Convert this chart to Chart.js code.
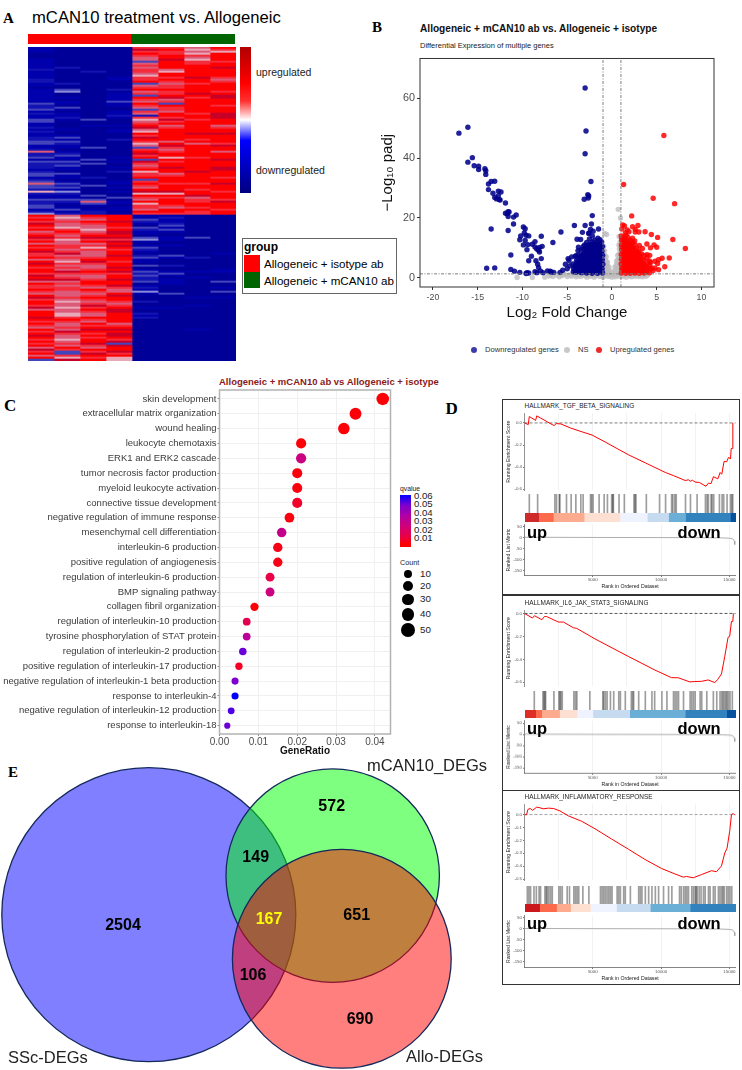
<!DOCTYPE html>
<html><head><meta charset="utf-8">
<script src="https://cdn.jsdelivr.net/npm/chart.js@4/dist/chart.umd.js"></script>
<style>
html,body{margin:0;padding:0;background:#fff}
#page{position:relative;width:742px;height:1070px;overflow:hidden;font-family:"Liberation Sans",Arial,sans-serif;color:#000}
#page canvas{position:absolute}
.t{position:absolute;white-space:nowrap;line-height:1;transform:translateY(-50%)}
.b{position:absolute}
.L{font-family:"Liberation Serif",serif;font-weight:bold;font-size:15px}
</style></head><body><div id="page"></div>
<script>
/* ---------- PANEL A : heat-map levels (0 navy ... 5 pale ... 8 red, 9 crimson), top 84 rows then bottom 73 rows ---------- */
const heatC1=[1,1,1,0,0,0,1,1,1,1,1,2,1,1,1,1,2,2,1,1,0,1,1,1,1,1,1,1,3,2,2,3,1,2,1,1,3,3,1,1,2,1,2,1,1,2,2,3,3,1,1,2,6,2,2,3,1,3,2,2,2,1,2,3,3,1,2,3,6,3,3,2,5,2,1,1,3,2,2,3,3,1,2,4,
 8,7,8,7,9,8,7,8,6,7,8,9,7,8,6,8,7,8,9,7,7,8,6,8,9,8,7,8,8,7,9,8,9,6,8,7,7,8,7,6,8,9,7,8,8,7,9,6,8,8,8,9,8,7,8,7,6,8,7,8,9,8,7,8,7,8,6,9,7,8,6,8,3];
const heatC2=[0,0,0,0,0,0,0,0,0,0,2,0,0,0,0,0,0,0,2,0,0,3,4,0,0,1,0,1,1,0,3,1,0,1,1,2,1,0,0,0,0,1,0,0,1,3,1,3,2,1,1,0,1,2,3,1,1,3,2,3,1,1,0,3,1,1,0,1,3,2,3,1,4,2,1,1,3,2,1,0,1,3,1,2,
 6,5,6,7,6,6,5,7,8,7,6,7,5,6,6,7,7,6,7,9,6,7,6,5,7,6,7,6,9,7,6,7,9,6,7,6,7,7,6,6,6,7,6,5,6,6,5,6,6,5,5,7,8,7,6,6,7,6,9,7,6,6,5,6,7,6,8,7,3,3,7,5,9];
const heatC3=[0,0,0,0,0,0,0,0,0,0,0,0,2,0,0,0,0,0,0,0,0,0,0,0,0,0,0,0,0,0,0,0,0,0,0,0,3,0,0,1,0,0,0,0,0,0,0,0,0,0,3,0,0,0,0,0,3,0,3,0,0,0,0,0,0,2,0,0,0,3,0,0,0,0,3,0,3,6,3,1,0,1,2,2,
 8,7,6,8,7,6,6,5,6,7,8,9,7,8,6,7,5,7,6,6,6,7,8,9,7,6,6,7,8,7,6,6,7,8,8,7,6,8,7,6,7,8,7,6,7,9,7,8,7,6,6,8,7,6,8,7,8,9,8,7,8,7,8,8,9,7,6,8,7,9,8,7,8];
const heatC4=[0,0,0,0,0,0,0,0,0,0,0,0,0,0,0,1,1,0,0,0,0,2,0,1,1,1,1,3,1,1,0,0,1,1,2,1,0,0,0,1,0,1,1,0,0,0,2,0,0,0,0,0,0,0,0,1,0,1,0,0,1,0,2,0,0,0,0,1,1,0,1,0,1,0,0,3,0,1,1,0,1,1,0,1,
 8,8,8,9,8,8,7,8,9,9,8,9,7,9,8,9,8,7,8,8,9,8,8,7,8,8,9,8,9,7,8,8,9,8,8,9,7,6,6,8,9,8,8,7,6,7,8,9,9,8,8,8,8,8,6,7,8,9,8,9,9,8,7,9,3,9,8,8,9,7,8,5,5];
const heatC5=[7,9,7,8,7,6,6,3,6,7,6,7,7,6,5,7,7,8,3,6,7,8,6,7,3,8,7,6,8,7,6,3,7,6,2,7,5,6,7,8,9,6,5,8,7,9,8,7,5,6,3,7,8,9,7,8,3,9,7,6,7,8,5,7,7,8,3,7,8,7,6,8,9,5,8,7,6,8,5,7,7,6,8,7,
 1,1,3,2,1,0,3,2,1,1,0,3,4,1,0,1,3,2,1,0,2,3,1,1,0,3,0,1,3,2,3,2,2,3,0,1,2,1,4,1,0,0,0,2,0,0,1,0,0,2,1,2,0,0,0,0,0,0,0,0,0,0,0,0,0,0,0,0,0,0,0,0,0];
const heatC6=[7,8,7,7,8,8,9,8,8,8,8,6,5,8,8,7,8,7,6,7,7,8,7,7,8,9,6,7,3,8,7,7,6,8,8,7,9,7,8,6,7,8,8,8,8,8,8,6,8,9,7,6,7,8,8,5,8,7,8,8,9,8,8,6,7,8,8,8,7,8,8,8,9,5,8,7,8,8,8,7,6,8,8,7,
 1,2,1,1,2,3,1,3,1,0,0,1,1,0,0,1,0,0,0,0,3,1,0,0,0,2,0,0,1,3,1,0,1,1,1,0,0,0,0,3,0,0,0,0,0,0,1,0,0,0,0,0,0,0,0,0,0,0,0,0,0,0,0,0,0,0,0,0,0,0,0,0,0];
const heatC7=[6,5,6,5,7,6,5,7,7,8,8,8,8,8,8,9,8,8,7,8,8,8,8,9,8,7,8,8,8,8,8,8,8,7,8,8,7,8,8,8,8,8,8,9,8,8,7,8,6,8,8,8,8,8,8,7,8,8,8,8,8,8,9,8,8,8,8,8,7,8,8,7,8,8,9,6,7,7,8,8,7,8,7,7,
 0,0,0,0,0,0,0,0,0,0,0,3,0,0,0,0,0,0,0,0,0,2,0,0,0,0,0,0,1,0,0,1,0,0,0,0,0,0,0,0,0,1,0,0,0,1,0,0,0,0,0,0,0,0,0,0,0,1,0,0,0,0,0,0,0,0,0,0,0,0,0,0,0];
const heatC8=[8,7,5,8,8,8,8,7,8,8,9,8,8,8,8,7,6,7,8,8,8,8,7,8,9,9,8,8,8,7,8,8,8,9,9,9,8,8,8,6,7,8,8,9,8,8,8,8,7,9,8,8,6,8,8,8,9,8,8,8,9,9,8,8,8,7,8,8,9,8,8,8,7,8,8,8,7,9,8,8,8,7,8,8,
 0,0,0,0,0,0,0,0,0,0,0,0,0,0,0,0,0,0,0,1,0,0,0,0,0,0,0,1,1,0,0,0,0,3,0,0,1,0,3,0,0,1,0,0,0,0,0,0,0,0,0,0,0,0,0,0,0,0,0,0,0,0,0,0,0,0,0,0,0,0,0,0,0];
const heatColumns=[heatC1,heatC2,heatC3,heatC4,heatC5,heatC6,heatC7,heatC8];
const heatPalette=['#000098','#0000ac','#1414b2','#4444bc','#8c8cd8','#e8a8b8','#dc5a78','#f42c3c','#ff0000','#c80028'];

/* ---------- PANEL B : volcano ---------- */
const downPoints=[[-17.1,48.4],[-16.1,50.4],[-16.1,38.7],[-15.6,40.2],[-15.4,37.5],[-14.9,37.3],[-14.9,36.2],[-14.2,36.5],[-14.1,35.8],[-14.1,34.6],
[-13.8,31.4],[-13.5,32.2],[-13.1,32.3],[-13.8,29.5],[-13.3,28.3],[-13.1,26.9],[-12.9,26.4],[-12.7,29],[-12.7,27.5],[-12.4,28.7],[-12.6,26.2],[-12.5,26],
[-11.9,25],[-11.9,21.6],[-11.6,22.1],[-11.7,21.4],[-11.5,22],[-11.6,20.5],[-11,20.3],[-10.7,21],[-11,18],[-11.6,15.8],[-13.5,16.3],
[-9.9,17],[-9.7,16.4],[-9.8,15],[-10.2,14],[-10.3,12.7],[-9.6,14.2],[-9.3,14],[-9.7,12.5],[-9.9,11],[-9.4,11.1],[-9.5,9.4],[-8.9,11.2],[-8.6,12.1],[-8.6,10.3],[-8.4,9.6],[-8.1,10.1],[-7.8,10.5],[-7.9,13.9],[-8.2,9.2],[-8.1,8.6],[-9,7.2],[-9.3,5.7],[-7.9,6.4],[-8.5,5.7],[-8.3,4.5],[-8.2,3.4],
[-11.3,7.6],[-14,3.2],[-13.1,3.3],[-11.3,2.8],[-10.9,2.2],[-10.3,1.8],[-9.5,1.7],[-9.6,1.4],[-9.3,1.6],[-8.6,2],[-8.4,1.7],[-8,2.3],[-7.7,1.7],[-7.2,2.3],[-6.9,2.2],[-6.8,1.9],[-6.6,11.8],[-5.7,15.3],
[-3,63.5],[-2.9,49.1],[-3,41.5],[-2.35,32.2],[-2.7,27.8],[-2.6,27.4],[-3.1,26.3],[-2.65,26.7],[-2.2,20.8],[-4.2,17.5],[-3,17.5],[-2.3,18],[-1.5,16.3],[-2.4,16.2],[-3.3,15.2],[-2.6,14.8],[-2.1,15.6],
[-4.9,6.4],[-4.5,7],[-5.2,4.5],[-5,3],[-4.7,4],[-5.5,2.5],[-5.8,1.8],[-6.5,1.8],[-4.8,5.8],[-3.9,12.9],[-3.5,12.8],[-3.2,10.5],[-3.8,9],[-4.1,7.2],
[-1.05,1.6],[-1.1,3],[-1.02,4.5],[-1.08,6],[-1.04,7.5],[-1.12,9],[-1.06,10.5],[-1.15,12],
[-1.32,2.2],[-1.28,3.6],[-1.35,5.1],[-1.3,6.7],[-1.26,8.2],[-1.36,9.8],[-1.3,11.3],[-1.34,12.7],
[-1.62,1.5],[-1.58,2.9],[-1.6,4.4],[-1.66,5.9],[-1.57,7.4],[-1.63,8.9],[-1.6,10.4],[-1.65,12],[-1.58,13.2],
[-1.92,2.1],[-1.88,3.7],[-1.95,5.2],[-1.86,6.6],[-1.9,8.1],[-1.94,9.7],[-1.87,11.1],[-1.93,12.6],
[-2.22,1.5],[-2.18,3],[-2.24,4.5],[-2.16,6],[-2.2,7.5],[-2.25,9],[-2.17,10.5],[-2.22,12],[-2.19,14],
[-2.52,2.2],[-2.48,3.7],[-2.55,5.2],[-2.46,6.7],[-2.5,8.2],[-2.54,9.6],[-2.47,11.2],[-2.52,13],[-2.56,15],
[-2.82,1.6],[-2.78,3],[-2.85,4.4],[-2.76,5.9],[-2.8,7.3],[-2.84,8.8],[-2.77,10.3],[-2.83,11.8],
[-3.12,2.1],[-3.08,3.6],[-3.15,5],[-3.06,6.5],[-3.1,8],[-3.14,9.5],[-3.07,11],
[-3.42,1.7],[-3.38,3],[-3.45,4.5],[-3.36,6],[-3.4,7.5],[-3.44,9.3],
[-3.72,2.1],[-3.68,3.4],[-3.75,4.8],[-3.66,6.2],[-3.7,7.6],[-3.74,10.2],
[-4.02,1.8],[-3.98,3.1],[-4.05,4.4],[-3.96,5.8],[-4,7.4],[-4.32,2],[-4.28,3.2],[-4.35,4.6],
[-1.15,2.3],[-1.2,3.8],[-1.17,5.3],[-1.22,6.9],[-1.16,8.4],[-1.2,10],[-1.45,1.9],[-1.42,3.2],[-1.47,4.8],[-1.44,6.3],[-1.49,7.8],[-1.43,9.3],[-1.46,11],[-1.75,2.4],[-1.72,3.6],[-1.78,5.1],[-1.74,6.6],[-1.77,8.2],[-1.73,9.6],[-1.76,11.2],
[-2.05,2.3],[-2.02,3.7],[-2.08,5.2],[-2.04,6.8],[-2.07,8.4],[-2.03,9.8],[-2.06,11.3],[-2.35,2],[-2.32,3.4],[-2.38,4.9],[-2.34,6.4],[-2.37,7.9],[-2.33,9.4],[-2.36,11],[-2.65,1.9],[-2.62,3.3],[-2.68,4.8],[-2.64,6.3],[-2.67,7.8],[-2.63,9.2],[-2.66,10.8],
[-2.95,2.3],[-2.92,3.8],[-2.98,5.3],[-2.94,6.8],[-2.97,8.3],[-2.93,9.9],[-3.25,1.9],[-3.22,3.3],[-3.28,4.8],[-3.24,6.3],[-3.27,7.8],[-3.55,2.4],[-3.52,3.7],[-3.58,5.2],[-3.54,6.8],[-3.85,2.6],[-3.83,3.9],[-3.87,5.2],[-4.15,2.5],[-4.13,3.8]];
const nsPoints=[[-10.6,0.1],[-8.9,0.1],[-7.5,0.2],[-7,0.6],[-6.6,0.4],[-6.2,0.9],[-5.9,0.3],[-5.6,0.7],[-5.3,1.1],[-5,0.4],[-4.8,0.9],[-4.5,0.5],[-4.2,1.1],[-4,0.3],[-3.8,0.8],[-3.5,0.4],[-3.3,1.1],[-3,0.7],[-2.8,0.2],[-2.6,1],[-2.4,0.5],[-2.2,0.9],[-2,0.2],[-1.8,0.7],[-1.6,1.1],[-1.4,0.4],[-1.2,0.9],[-1,0.2],[-0.8,0.7],[-0.6,1.1],[-0.4,0.4],[-0.2,0.8],[0,0.2],[0.2,0.8],[0.4,0.3],[0.6,1],[0.8,0.5],[1,1.1],[1.2,0.4],[1.4,0.8],[1.6,0.2],[1.8,1],[2,0.6],[2.2,0.3],[2.4,0.9],[2.6,0.5],[2.8,1.1],[3,0.4],[3.2,0.8],[3.4,0.3],[3.6,1],[3.8,0.5],[4,0.9],[-6.8,1.1],[-5.5,1.2],[-4.4,1.2],[-3.6,1.2],[-2.9,1.2],[-2.1,1.2],[1.5,1.2],[2.5,1.2],[3.3,1.2],
[-0.95,1.5],[-0.97,3],[-0.93,4.5],[-0.96,6],[-0.94,7.5],[-0.97,9],[-0.92,10.5],[-0.8,1.6],[-0.82,3],[-0.78,4.5],[-0.81,6],[-0.79,7.5],[-0.83,9],[-0.65,1.5],[-0.67,2.8],[-0.63,4.2],[-0.66,5.5],[-0.64,7],[-0.5,1.5],[-0.52,2.8],[-0.48,4],[-0.51,5.2],[-0.35,1.4],[-0.37,2.5],[-0.33,3.5],[-0.2,1.3],[-0.22,2],
[0.2,1.3],[0.22,2],[0.35,1.4],[0.37,2.6],[0.33,3.6],[0.5,1.5],[0.52,3],[0.48,4.2],[0.51,5.5],[0.65,1.6],[0.67,3],[0.63,4.6],[0.66,6],[0.64,7.5],[0.8,1.5],[0.82,3.2],[0.78,4.8],[0.81,6.4],[0.79,8],[0.83,9.6],[0.78,11],[0.8,13.8],[0.95,1.6],[0.97,3.2],[0.93,5],[0.96,6.6],[0.94,8.2],[0.97,10],[0.92,12],
[0.7,22.9],[0.95,20],[-0.8,14.8],[-0.6,14.5]];
const upPoints=[[5.8,47.6],[1.3,31.2],[4.6,26.6],[7,24.8],[2.2,20.7],[1.2,17.7],[1.4,17.3],[2.3,17.1],[2.9,17.5],[1.1,16.3],[1.7,16],[2.6,16.2],[1.5,15],[1.9,15.4],[2.6,15.3],[3,15.3],[3.7,15.4],[4.4,14.5],[5.1,13.5],[6.8,12.8],[8.2,9.8],[5,10.2],[4.3,10],[3.4,9.8],[3.9,11.3],[4.7,11],[5.6,6.5],[6.4,6.6],[5.2,6],[4.8,5.5],[5.1,4.8],[4.3,5.2],[5.9,3.7],[4.8,3.3],[4.4,3.2],[5.2,2.7],[4.6,2.4],
[1.05,1.6],[1.08,3],[1.03,4.6],[1.06,6.2],[1.04,7.8],[1.09,9.4],[1.05,11],[1.07,12.6],[1.03,14],
[1.3,2.3],[1.27,3.9],[1.33,5.4],[1.28,7],[1.32,8.6],[1.26,10.2],[1.31,11.8],[1.29,13.4],
[1.55,1.5],[1.52,3.1],[1.58,4.7],[1.53,6.3],[1.57,7.9],[1.51,9.5],[1.56,11.1],[1.54,12.7],[1.58,14.2],
[1.8,2.2],[1.77,3.8],[1.83,5.4],[1.78,7.1],[1.82,8.7],[1.76,10.3],[1.81,12],[1.79,13.5],
[2.05,1.5],[2.02,3],[2.08,4.6],[2.03,6.2],[2.07,7.8],[2.01,9.3],[2.06,10.9],[2.04,12.5],
[2.3,2.1],[2.27,3.7],[2.33,5.3],[2.28,6.8],[2.32,8.5],[2.26,10.1],[2.31,11.8],[2.29,13.2],
[2.55,1.6],[2.52,3.2],[2.58,4.7],[2.53,6.3],[2.57,7.8],[2.51,9.4],[2.56,11],[2.54,12.3],
[2.8,2.2],[2.77,3.7],[2.83,5.3],[2.78,6.9],[2.82,8.4],[2.76,9.9],
[3.05,1.5],[3.02,3],[3.08,4.5],[3.03,6.1],[3.07,7.7],[3.01,9],[3.06,10.8],
[3.3,2.1],[3.27,3.5],[3.33,5],[3.28,6.4],[3.32,8],
[3.6,1.6],[3.57,3],[3.63,4.4],[3.58,5.9],[3.62,7.5],
[3.9,2],[3.87,3.3],[3.93,4.7],[3.88,6.5],[3.92,7.7],
[4.2,1.7],[4.17,3],[4.23,4.2],[4.18,5.6],[4.22,7.5],
[1.18,2.4],[1.15,3.8],[1.2,5.2],[1.16,7],[1.19,8.6],[1.14,10.2],[1.18,11.8],[1.15,13.2],[1.42,2],[1.4,3.4],[1.44,4.9],[1.41,6.5],[1.43,8.1],[1.39,9.7],[1.42,11.3],[1.4,13],
[1.68,2.2],[1.65,3.7],[1.7,5.2],[1.66,6.9],[1.69,8.4],[1.64,10],[1.68,11.7],[1.92,2.2],[1.9,3.6],[1.94,5.1],[1.91,6.7],[1.93,8.3],[1.89,9.9],[1.92,11.5],
[2.18,2],[2.15,3.4],[2.2,4.9],[2.16,6.5],[2.19,8.1],[2.14,9.6],[2.18,11.3],[2.42,2.3],[2.4,3.8],[2.44,5.3],[2.41,6.9],[2.43,8.4],[2.39,10],
[2.68,1.9],[2.65,3.4],[2.7,4.9],[2.66,6.5],[2.69,8.1],[2.92,2.2],[2.9,3.7],[2.94,5.2],[2.91,6.8],[2.93,8.4],[3.18,2.2],[3.15,3.7],[3.2,5.2],[3.16,6.8],[3.45,2],[3.42,3.4],[3.47,5],[3.75,2.3],[3.73,3.8]];
const volcanoXTicks=[-20,-15,-10,-5,0,5,10];
const volcanoYTicks=[0,20,40,60];
const foldThreshold=1, padjThreshold=1.3;

/* ---------- PANEL C : dot plot ---------- */
const terms=['skin development','extracellular matrix organization','wound healing','leukocyte chemotaxis','ERK1 and ERK2 cascade','tumor necrosis factor production','myeloid leukocyte activation','connective tissue development','negative regulation of immune response','mesenchymal cell differentiation','interleukin-6 production','positive regulation of angiogenesis','regulation of interleukin-6 production','BMP signaling pathway','collagen fibril organization','regulation of interleukin-10 production','tyrosine phosphorylation of STAT protein','regulation of interleukin-2 production','positive regulation of interleukin-17 production','negative regulation of interleukin-1 beta production','response to interleukin-4','negative regulation of interleukin-12 production','response to interleukin-18'];
const geneRatio=[.042,.035,.032,.021,.021,.020,.020,.020,.018,.016,.015,.015,.013,.013,.009,.007,.007,.006,.005,.004,.004,.003,.002];
const qvalue=[.001,.001,.001,.001,.022,.002,.002,.006,.002,.024,.003,.003,.01,.022,.001,.012,.027,.045,.005,.04,.06,.05,.044];
const geneCount=[50,42,38,25,25,24,24,24,21,19,18,18,15,15,11,8,8,7,6,5,5,4,2];
const ratioTicks=[0,.01,.02,.03,.04];
const qLegend=['0.06','0.05','0.04','0.03','0.02','0.01'];
const countLegend=[10,20,30,40,50];

/* ---------- PANEL D : GSEA ---------- */
const gseaTitles=['HALLMARK_TGF_BETA_SIGNALING','HALLMARK_IL6_JAK_STAT3_SIGNALING','HALLMARK_INFLAMMATORY_RESPONSE'];
const es1=[[0,0],[275,-.015],[350,.058],[810,.023],[900,.064],[2025,-.015],[2170,-.023],[2320,-.006],[2660,-.009],[3370,-.046],[4220,-.081],[4950,-.11],[5920,-.174],[7630,-.29],[8850,-.362],[10310,-.449],[10920,-.478],[11770,-.522],[12000,-.515],[12130,-.528],[12300,-.52],[12500,-.536],[12800,-.54],[13280,-.574],[13470,-.545],[13650,-.55],[13830,-.487],[14150,-.507],[14320,-.449],[14440,-.465],[14610,-.348],[14800,-.352],[14930,-.313],[15080,-.325],[15130,-.232],[15220,-.232],[15250,0]];
const es2=[[0,0],[580,-.04],[730,-.02],[1270,-.055],[1460,-.027],[1620,-.027],[2480,-.075],[2850,-.075],[3580,-.125],[3820,-.13],[5160,-.222],[7600,-.375],[9550,-.494],[10760,-.56],[11250,-.561],[12100,-.597],[12470,-.594],[12960,-.592],[13440,-.58],[13930,-.603],[14130,-.578],[14420,-.528],[14660,-.375],[14900,-.208],[15020,-.2],[15150,-.07],[15250,-.07],[15290,0]];
const es3=[[0,0],[150,-.002],[250,.04],[420,.047],[590,.033],[900,.058],[1140,.052],[1380,.045],[1750,.05],[2120,.047],[2600,.028],[3210,-.01],[4190,-.052],[5160,-.11],[6380,-.19],[7600,-.268],[8820,-.348],[10030,-.418],[11010,-.46],[11620,-.485],[11860,-.48],[12350,-.49],[12960,-.465],[13690,-.435],[14050,-.443],[14420,-.398],[14660,-.298],[14830,-.26],[15030,-.122],[15150,0],[15280,.008],[15400,-.005]];
const rug1=[316,925,2190,2310,2510,2555,3040,3380,3725,4090,4260,4800,4890,4990,5430,5800,6040,6350,6430,6475,6890,7280,7985,8060,8130,8890,9860,10300,10740,10835,10980,11080,11760,12125,12610,13220,13345,13440,13635,13710,13830,14245,14440,14560,14805,15050,15150,15220];
const rug2=[680,1315,1390,1460,1510,2120,2480,2555,2630,2730,3580,3700,3800,4750,5700,5770,5890,6015,6260,6500,6870,6990,7350,7790,7890,7960,8330,8815,9300,9500,10030,10400,10880,11000,11130,11250,11615,12100,12220,12345,12470,12830,12950,13320,13800,14050,14290,14415,14510,14610,14710,14800,14900,15020,15190];
const rug3=[170,290,410,660,830,1030,1140,1460,1560,1630,1750,1880,2000,2480,2600,2730,3090,3260,3580,3700,3820,3940,4240,4680,5530,5650,5770,5890,6015,6140,6260,6380,6750,6870,6990,7230,7350,7720,8330,8450,8570,8815,9060,9300,9550,9790,10150,10520,10760,11320,11445,11615,11740,11860,11980,12220,12345,12470,12540,12615,12760,12900,13075,13200,13440,13560,13800,13930,14170,14290,14415,14510,14610,14780,14900,15020,15150];
const stripEdges1=[0,1000,2070,4330,6960,8960,10520,11760,15050,15460];
const stripEdges2=[0,780,1220,2530,3820,4970,7670,11740,14780,15460];
const stripEdges3=[0,1070,2310,3340,4800,6700,9180,12100,15460];
const stripColors1=['#cf2a2a','#fb6a4a','#fcab8f','#fee0d2','#eff3ff','#c6dbef','#6baed6','#3182bd','#08519c'];
const stripColors2=['#de2d26','#fb6a4a','#fcab8f','#fee0d2','#eff3ff','#c6dbef','#6baed6','#3182bd','#08519c'];
const stripColors3=['#cb181d','#fb6a4a','#fcab8f','#fee0d2','#eff3ff','#c6dbef','#6baed6','#3182bd'];
const rankedMetric=[[0,1.5],[5000,.5],[10000,0],[13000,-.5],[14500,-1.5],[15000,-3],[15200,-5],[15300,-9],[15360,-16],[15400,-32]];
const esTicks1=[0,-.2,-.4,-.6], esTicks2=[0,-.2,-.4,-.6], esTicks3=[0,-.1,-.2,-.3,-.4,-.5];
const metricTicks=[50,0,-50,-100,-150];
const rankTicks=[5000,10000,15000];
const rankGrid=[2500,5000,7500,10000,12500,15000];

/* ---------- PANEL E : Venn ---------- */
const vennSets=['SSc-DEGs','mCAN10_DEGs','Allo-DEGs'];
const vennCx=[29.76,66.54,68.36], vennCy=[50.7,38.3,64.7], vennRadius=[29.4,21.34,21.88];
const vennFill=['rgba(0,0,255,.5)','rgba(0,255,0,.5)','rgba(255,0,0,.5)'];
const vennCounts=['2504','149','572','167','651','106','690'];

/* ---------- helpers ---------- */
const page=document.getElementById('page');
Chart.defaults.animation=false;
Chart.defaults.font.family='"Liberation Sans",Arial,sans-serif';
Chart.defaults.plugins.legend.display=false;
Chart.defaults.plugins.tooltip.enabled=false;
function T(s,x,y,st={}){const e=document.createElement('div');e.className='t '+(st.cls||'');e.textContent=s;
 e.style.left=x+'px';e.style.top=y+'px';Object.assign(e.style,st.css||{});
 if(st.center)e.style.transform='translate(-50%,-50%)';page.appendChild(e);return e;}
function B(l,t,w,h,css){const e=document.createElement('div');e.className='b';e.style.left=l+'px';e.style.top=t+'px';e.style.width=w+'px';e.style.height=h+'px';Object.assign(e.style,css||{});page.appendChild(e);return e;}
const frame={id:'frame',afterDatasetsDraw(c,a,o){if(!o.color)return;const A=c.chartArea,x=c.ctx;x.save();x.strokeStyle=o.color;x.lineWidth=o.width||1;x.strokeRect(A.left,A.top,A.width,A.height);x.restore();}};
function mk(rect,plot,cfg){const [l,t,r,b]=rect,[pl,pt,pr,pb]=plot;
 const cv=document.createElement('canvas');cv.width=r-l;cv.height=b-t;cv.style.left=l+'px';cv.style.top=t+'px';cv.style.width=(r-l)+'px';cv.style.height=(b-t)+'px';page.appendChild(cv);
 const o=cfg.options=cfg.options||{};o.responsive=false;o.maintainAspectRatio=false;
 o.layout={autoPadding:false,padding:{left:0,top:pt-t,right:r-pr,bottom:0}};
 const sc=o.scales=o.scales||{};sc.x=sc.x||{};sc.y=sc.y||{};
 sc.x.afterFit=s=>{s.height=b-pb};sc.y.afterFit=s=>{s.width=pl-l};
 cfg.plugins=(cfg.plugins||[]).concat([frame]);
 return new Chart(cv,cfg);}
const fix=v=>s=>{s.ticks=v.map(value=>({value}))};
const mapPts=p=>p.map(([x,y])=>({x,y}));

/* ---------- PANEL A ---------- */
T('A',3,18,{cls:'L'});
T('mCAN10 treatment vs. Allogeneic',32,18,{css:{fontSize:'16.65px'}});
B(28,34,103,9.5,{background:'#ff0000'});B(131,34,104,9.5,{background:'#006400'});
const heatRows=heatC1.map((_,i)=>String(i+1));
mk([28,47,236,361],[28,47,236,361],{type:'bar',
 data:{labels:heatRows,datasets:heatColumns.map((col,j)=>({data:col.map(()=>[j,j+1]),backgroundColor:col.map(v=>heatPalette[v]),borderWidth:0,barPercentage:1,categoryPercentage:1,grouped:false}))},
 options:{indexAxis:'y',scales:{x:{type:'linear',min:0,max:8,display:false},y:{display:false}}}});
B(240,47,11,146,{background:'linear-gradient(to bottom,#b00000 0%,#ff0000 25%,#ff3030 37%,#ffffff 50%,#0000ff 64%,#000080 100%)'});
T('upregulated',256,71.5,{css:{fontSize:'10.5px',color:'#222'}});
T('downregulated',256,169.5,{css:{fontSize:'10.5px',color:'#222'}});
B(242,238,153,54,{border:'1.5px solid #666',background:'#fff',boxSizing:'content-box'});
T('group',244,247,{css:{fontSize:'12px',fontWeight:'bold'}});
B(244,255,16,17,{background:'#ff0000'});B(244,272,16,16,{background:'#006400'});
T('Allogeneic + isotype ab',264,264,{css:{fontSize:'11.6px'}});
T('Allogeneic + mCAN10 ab',264,281,{css:{fontSize:'11.6px'}});

/* ---------- PANEL B ---------- */
T('B',372,27,{cls:'L'});
T('Allogeneic + mCAN10 ab vs. Allogeneic + isotype',420,29,{css:{fontSize:'10.15px',fontWeight:'bold',color:'#111'}});
T('Differential Expression of multiple genes',420,45.5,{css:{fontSize:'7.5px',color:'#222'}});
const pointDs=(pts,c,o)=>({data:mapPts(pts),backgroundColor:c,borderWidth:0,pointRadius:2.7,order:o});
const ref=(pts,o)=>({data:mapPts(pts),showLine:true,borderColor:'#7f7f7f',borderWidth:1,borderDash:[3,1.5,1,1.5],pointRadius:0,order:o,fill:false});
const vx=[-21.45,11.4], vy=[-3.1,73.4];
mk([379,50,726,322],[420,57,714,287],{type:'scatter',
 data:{datasets:[
  pointDs(nsPoints,'rgba(190,190,190,.78)',3),
  pointDs(downPoints,'rgba(0,0,139,.87)',2),
  pointDs(upPoints,'rgba(255,0,0,.84)',1),
  ref([[-foldThreshold,vy[0]],[-foldThreshold,vy[1]]],0),
  ref([[foldThreshold,vy[0]],[foldThreshold,vy[1]]],0),
  ref([[vx[0],padjThreshold],[vx[1],padjThreshold]],0)]},
 options:{plugins:{frame:{color:'#333',width:1}},
  scales:{x:{type:'linear',min:vx[0],max:vx[1],afterBuildTicks:fix(volcanoXTicks),grid:{drawOnChartArea:false,tickLength:3,color:'#333'},border:{display:false},
    ticks:{font:{size:8.8},color:'#4d4d4d',padding:2,autoSkip:false,maxRotation:0,callback:v=>String(v)},
    title:{display:true,text:'Log\u2082 Fold Change',color:'#111',font:{size:15},padding:0}},
   y:{type:'linear',min:vy[0],max:vy[1],afterBuildTicks:fix(volcanoYTicks),grid:{drawOnChartArea:false,tickLength:3,color:'#333'},border:{display:false},
    ticks:{font:{size:10.8},color:'#4d4d4d',padding:2,autoSkip:false,callback:v=>String(v)},
    title:{display:true,text:'\u2212Log\u2081\u2080 padj',color:'#111',font:{size:15},padding:0}}}}});
[[474,'rgba(40,40,160,.9)','Downregulated genes',485],[567,'#c8c8c8','NS',578],[598.7,'#ee2a2a','Upregulated genes',610]].forEach(([cx,c,s,tx])=>{
 B(cx-3,347,6,6,{background:c,borderRadius:'50%'});T(s,tx,350,{css:{fontSize:'7.6px',color:'#333'}});});

/* ---------- PANEL C ---------- */
T('C',4,405,{cls:'L',css:{fontSize:'17px'}});
T('D',445.5,408,{cls:'L',css:{fontSize:'17px'}});
T('Allogeneic + mCAN10 ab vs Allogeneic + isotype',219,381.5,{css:{fontSize:'9.5px',fontWeight:'bold',color:'#8b1a1a'}});
const qStops=[[255,0,0],[233,0,70],[208,0,120],[176,0,165],[125,0,205],[80,0,232],[0,0,255]];
const qColor=q=>{const t=Math.min(.9999,q/.06)*6,i=Math.floor(t),f=t-i,a=qStops[i],b=qStops[i+1];return `rgb(${a.map((v,k)=>Math.round(v+(b[k]-v)*f)).join(',')})`};
const countRadius=c=>2.3+.56*Math.sqrt(c);
mk([0,380,395,757],[219.5,390,390.5,734],{type:'bubble',
 data:{datasets:[{data:terms.map((_,i)=>({x:geneRatio[i],y:i,r:countRadius(geneCount[i])})),backgroundColor:qvalue.map(qColor),borderWidth:0,clip:false}]},
 options:{plugins:{frame:{color:'#b3b3b3',width:1.5}},
  scales:{x:{type:'linear',min:0,max:.044,afterBuildTicks:fix(ratioTicks),grid:{color:'#f0f0f0',tickLength:2,tickColor:'#888'},border:{display:false},
    ticks:{font:{size:10},color:'#4d4d4d',padding:0,autoSkip:false,maxRotation:0,callback:v=>v.toFixed(2)},
    title:{display:true,text:'GeneRatio',color:'#111',font:{size:10,weight:'bold'},padding:0}},
   y:{type:'linear',reverse:true,min:-.6,max:22.56,afterBuildTicks:fix(terms.map((_,i)=>i)),grid:{color:'#f0f0f0',tickLength:2,tickColor:'#888'},border:{display:false},
    ticks:{font:{size:9.5},color:'#3a3a3a',padding:1,autoSkip:false,callback:v=>terms[v]}}}}});
T('qvalue',400,489,{css:{fontSize:'6.8px',color:'#222'}});
B(400,495,10.5,52,{background:'linear-gradient(to bottom,rgb(0,0,255),rgb(125,0,205) 20%,rgb(176,0,165) 40%,rgb(208,0,120) 60%,rgb(233,0,70) 80%,rgb(255,0,0) 95%)'});
qLegend.forEach((s,i)=>T(s,414,495.7+i*8.5,{css:{fontSize:'9.6px',color:'#222'}}));
T('Count',400,563,{css:{fontSize:'7.2px',color:'#222'}});
[574.3,586,599.3,614.3,630.3].forEach((y,i)=>{const r=[4,5,5.6,6.3,6.9][i];B(408-r,y-r,2*r,2*r,{background:'#000',borderRadius:'50%'});T(String(countLegend[i]),420,y,{css:{fontSize:'9.8px',color:'#222'}});});

/* ---------- PANEL D ---------- */
const L=524.5,R=735.7,RM=15460;
const gsea=[
 {fr:[502,399,238,196],title:406,top:[413,493.3],yr:[-.611,.09],yt:esTicks1,es:es1,rug:rug1,rugY:[494,512.7],strip:[513.2,521.7],se:stripEdges1,sc:stripColors1,rk:[522.7,575.7],rkY:[-173,59],upY:531.5,ds:'#6f6f6f'},
 {fr:[502,595,238,196],title:602.5,top:[609.7,689.3],yr:[-.636,.03],yt:esTicks2,es:es2,rug:rug2,rugY:[691,710],strip:[710,718.3],se:stripEdges2,sc:stripColors2,rk:[719,773.3],rkY:[-175,62],upY:728.3,ds:'#444'},
 {fr:[502,790,238,195],title:797.3,top:[804.3,883.3],yr:[-.51,.082],yt:esTicks3,es:es3,rug:rug3,rugY:[886,904.3],strip:[904.3,912.3],se:stripEdges3,sc:stripColors3,rk:[913.7,968],rkY:[-177,60],upY:922.7,ds:'#9a9a9a'}];
gsea.forEach((g,k)=>{
 B(g.fr[0],g.fr[1],g.fr[2],g.fr[3],{border:'1.5px solid #333',boxSizing:'border-box'});
 T(gseaTitles[k],524.5,g.title,{css:{fontSize:'6.45px',color:'#222'}});
 const xBase={type:'linear',min:0,max:RM,offset:false};
 mk([505,g.top[0]-4,Math.ceil(R)+1,g.top[1]+1],[L,g.top[0],R,g.top[1]],{type:'scatter',
  data:{datasets:[
   {data:mapPts([[0,0],[RM,0]]),showLine:true,borderColor:g.ds,borderWidth:.9,borderDash:[3,2],pointRadius:0,order:1},
   {data:mapPts(g.es),showLine:true,borderColor:'#ff0000',borderWidth:1,pointRadius:0,tension:0,order:0}]},
  options:{scales:{x:{...xBase,afterBuildTicks:fix(rankGrid),grid:{color:'#f2f2f2',drawTicks:false},border:{display:false},ticks:{display:false}},
   y:{type:'linear',min:g.yr[0],max:g.yr[1],afterBuildTicks:fix(g.yt),grid:{drawOnChartArea:false,tickLength:1.5,color:'#777'},border:{color:'#777',width:.8},
    ticks:{font:{size:4.4},color:'#555',padding:1,autoSkip:false,callback:v=>v.toFixed(1)},
    title:{display:true,text:'Running Enrichment Score',color:'#222',font:{size:5.2},padding:0}}}}});
 mk([L,g.rugY[0],Math.ceil(R),g.rugY[1]],[L,g.rugY[0],Math.ceil(R),g.rugY[1]],{type:'bar',
  data:{datasets:[{data:g.rug.map(x=>({x,y:1})),backgroundColor:'rgba(25,25,25,.42)',barThickness:1,grouped:false,borderWidth:0}]},
  options:{scales:{x:{...xBase,display:false},y:{type:'linear',min:0,max:1,display:false}}}});
 mk([L,g.strip[0],Math.ceil(R),g.strip[1]],[L,g.strip[0],Math.ceil(R),g.strip[1]],{type:'bar',
  data:{labels:['rank'],datasets:g.sc.map((c,i)=>({data:[[g.se[i],g.se[i+1]]],backgroundColor:c,borderWidth:0,barPercentage:1,categoryPercentage:1,grouped:false}))},
  options:{indexAxis:'y',scales:{x:{...xBase,display:false},y:{display:false}}}});
 mk([505,g.rk[0]-2,Math.ceil(R)+6,g.rk[1]+14.5],[L,g.rk[0],R,g.rk[1]],{type:'scatter',
  data:{datasets:[{data:mapPts(rankedMetric),showLine:true,borderColor:'#999',borderWidth:.8,pointRadius:0}]},
  options:{scales:{x:{...xBase,afterBuildTicks:fix(rankTicks),grid:{color:'#f2f2f2',tickLength:1.5,tickColor:'#777'},border:{color:'#666',width:.8},
    ticks:{font:{size:4.4},color:'#555',padding:.5,autoSkip:false,maxRotation:0,callback:v=>String(v)},
    title:{display:true,text:'Rank in Ordered Dataset',color:'#222',font:{size:5.2},padding:0}},
   y:{type:'linear',min:g.rkY[0],max:g.rkY[1],afterBuildTicks:fix(metricTicks),grid:{drawOnChartArea:false,tickLength:1.5,color:'#777'},border:{color:'#666',width:.8},
    ticks:{font:{size:4.4},color:'#555',padding:1,autoSkip:false,callback:v=>String(v)},
    title:{display:true,text:'Ranked List Metric',color:'#222',font:{size:5.2},padding:0}}}}});
 T('up',527,g.upY,{css:{fontSize:'16.5px',fontWeight:'bold'}});
 T('down',677.5,g.upY,{css:{fontSize:'16.5px',fontWeight:'bold'}});
});

/* ---------- PANEL E ---------- */
T('E',8,771.7,{cls:'L'});
mk([0,755,500,1070],[0,755,500,1070],{type:'bubble',
 data:{datasets:vennSets.map((s,i)=>({label:s,data:[{x:vennCx[i],y:vennCy[i],r:vennRadius[i]*5}],backgroundColor:vennFill[i],borderColor:'#14285a',borderWidth:1.3,clip:false,order:2-i}))},
 options:{scales:{x:{type:'linear',min:0,max:100,display:false},y:{type:'linear',min:0,max:100,display:false,reverse:true}}}});
[[123,925],[255.7,857.3],[331.7,805.7],[269,918.7],[356.7,914.7],[253,975.3],[360,1018.7]].forEach(([x,y],i)=>
 T(vennCounts[i],x,y,{center:true,css:{fontSize:'16px',fontWeight:'bold',color:i===3?'#ffff00':'#000'}}));
T(vennSets[1],367,765,{css:{fontSize:'16.5px',color:'#222'}});
T(vennSets[0],8,1056.7,{css:{fontSize:'16.5px',color:'#222'}});
T(vennSets[2],406,1055.7,{css:{fontSize:'16.5px',color:'#222'}});
</script></body></html>
